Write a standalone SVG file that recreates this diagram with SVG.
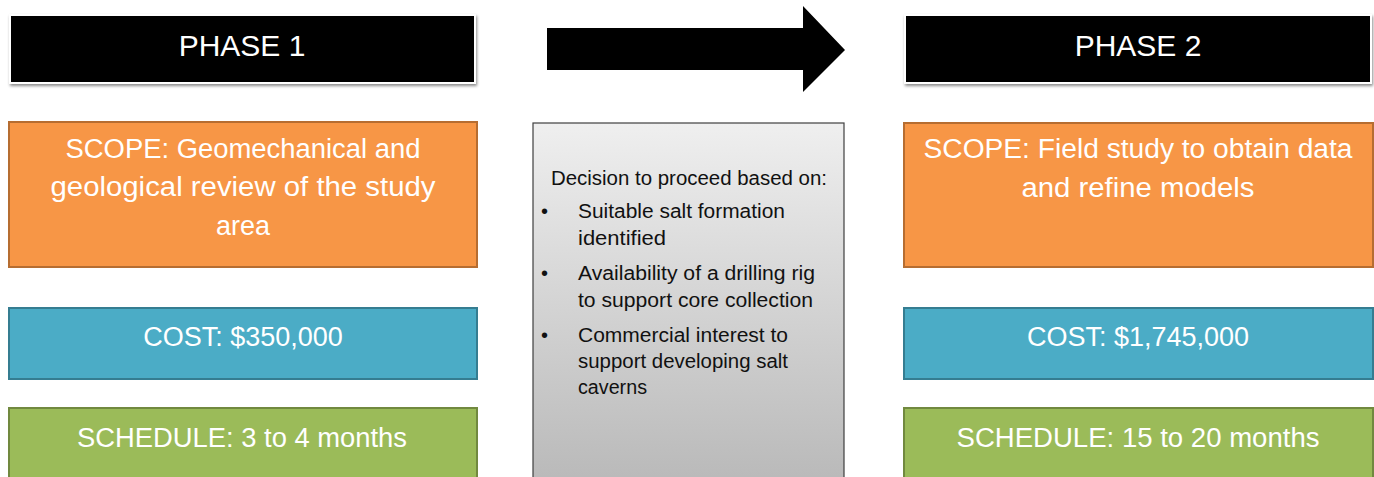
<svg xmlns="http://www.w3.org/2000/svg" width="1374" height="477" viewBox="0 0 1374 477">
<style>
text{font-family:"Liberation Sans",Arial,sans-serif;fill:#ffffff;}
.hd{font-size:30px;text-anchor:middle;}
.big{font-size:27px;text-anchor:middle;}
.mid{font-size:20px;fill:#111111;}
.phase{fill:#000000;stroke:#ffffff;stroke-width:2;}
.scope{fill:#f79646;stroke:#b66d31;stroke-width:2;}
.cost{fill:#4bacc6;stroke:#357d91;stroke-width:2;}
.sched{fill:#9bbb59;stroke:#71893f;stroke-width:2;}
</style>
<defs>
<filter id="sh" x="-5%" y="-20%" width="110%" height="150%">
<feDropShadow dx="1" dy="2" stdDeviation="1.5" flood-color="#000" flood-opacity="0.45"/>
</filter>
<linearGradient id="gg" x1="0" y1="0" x2="0" y2="1">
<stop offset="0" stop-color="#efefef"/>
<stop offset="1" stop-color="#b9b9b9"/>
</linearGradient>
</defs>
<rect width="1374" height="477" fill="#ffffff"/>
<g id="phase1">
<rect class="phase" x="10" y="15" width="465" height="68" filter="url(#sh)"/>
<text class="hd" x="242" y="56">PHASE 1</text>
</g>
<g id="phase2">
<rect class="phase" x="905" y="15" width="466" height="68" filter="url(#sh)"/>
<text class="hd" x="1138" y="56">PHASE 2</text>
</g>
<g id="connectors">
<polygon points="547,28 803,28 803,6 845,50 803,92 803,70 547,70" fill="#000000"/>
</g>
<g id="scope1">
<rect class="scope" x="9" y="122" width="468" height="145"/>
<text class="big" x="243" y="158" textLength="355" lengthAdjust="spacingAndGlyphs">SCOPE: Geomechanical and</text>
<text class="big" x="243" y="196" textLength="385" lengthAdjust="spacingAndGlyphs">geological review of the study</text>
<text class="big" x="243" y="235" textLength="54" lengthAdjust="spacingAndGlyphs">area</text>
</g>
<g id="cost1">
<rect class="cost" x="9" y="308" width="468" height="71"/>
<text class="big" x="243" y="346">COST: $350,000</text>
</g>
<g id="sched1">
<rect class="sched" x="9" y="408" width="468" height="75"/>
<text class="big" x="242" y="447" textLength="330" lengthAdjust="spacingAndGlyphs">SCHEDULE: 3 to 4 months</text>
</g>
<g id="decision">
<rect x="533" y="123" width="311" height="360" fill="url(#gg)" stroke="#3f3f3f" stroke-width="1.2"/>
<text class="mid" x="551" y="185" textLength="276" lengthAdjust="spacingAndGlyphs">Decision to proceed based on:</text>
<text class="mid" x="541" y="218">•</text>
<text class="mid" x="578" y="218" textLength="207" lengthAdjust="spacingAndGlyphs">Suitable salt formation</text>
<text class="mid" x="578" y="245" textLength="88" lengthAdjust="spacingAndGlyphs">identified</text>
<text class="mid" x="541" y="280">•</text>
<text class="mid" x="578" y="280" textLength="237" lengthAdjust="spacingAndGlyphs">Availability of a drilling rig</text>
<text class="mid" x="578" y="307" textLength="235" lengthAdjust="spacingAndGlyphs">to support core collection</text>
<text class="mid" x="541" y="342">•</text>
<text class="mid" x="578" y="342" textLength="210" lengthAdjust="spacingAndGlyphs">Commercial interest to</text>
<text class="mid" x="578" y="368" textLength="210" lengthAdjust="spacingAndGlyphs">support developing salt</text>
<text class="mid" x="578" y="394" textLength="69" lengthAdjust="spacingAndGlyphs">caverns</text>
</g>
<g id="scope2">
<rect class="scope" x="904" y="123" width="469" height="144"/>
<text class="big" x="1138" y="158" textLength="429" lengthAdjust="spacingAndGlyphs">SCOPE: Field study to obtain data</text>
<text class="big" x="1138" y="197" textLength="233" lengthAdjust="spacingAndGlyphs">and refine models</text>
</g>
<g id="cost2">
<rect class="cost" x="904" y="308" width="469" height="71"/>
<text class="big" x="1138" y="346">COST: $1,745,000</text>
</g>
<g id="sched2">
<rect class="sched" x="904" y="408" width="469" height="75"/>
<text class="big" x="1138" y="447" textLength="363" lengthAdjust="spacingAndGlyphs">SCHEDULE: 15 to 20 months</text>
</g>
</svg>
